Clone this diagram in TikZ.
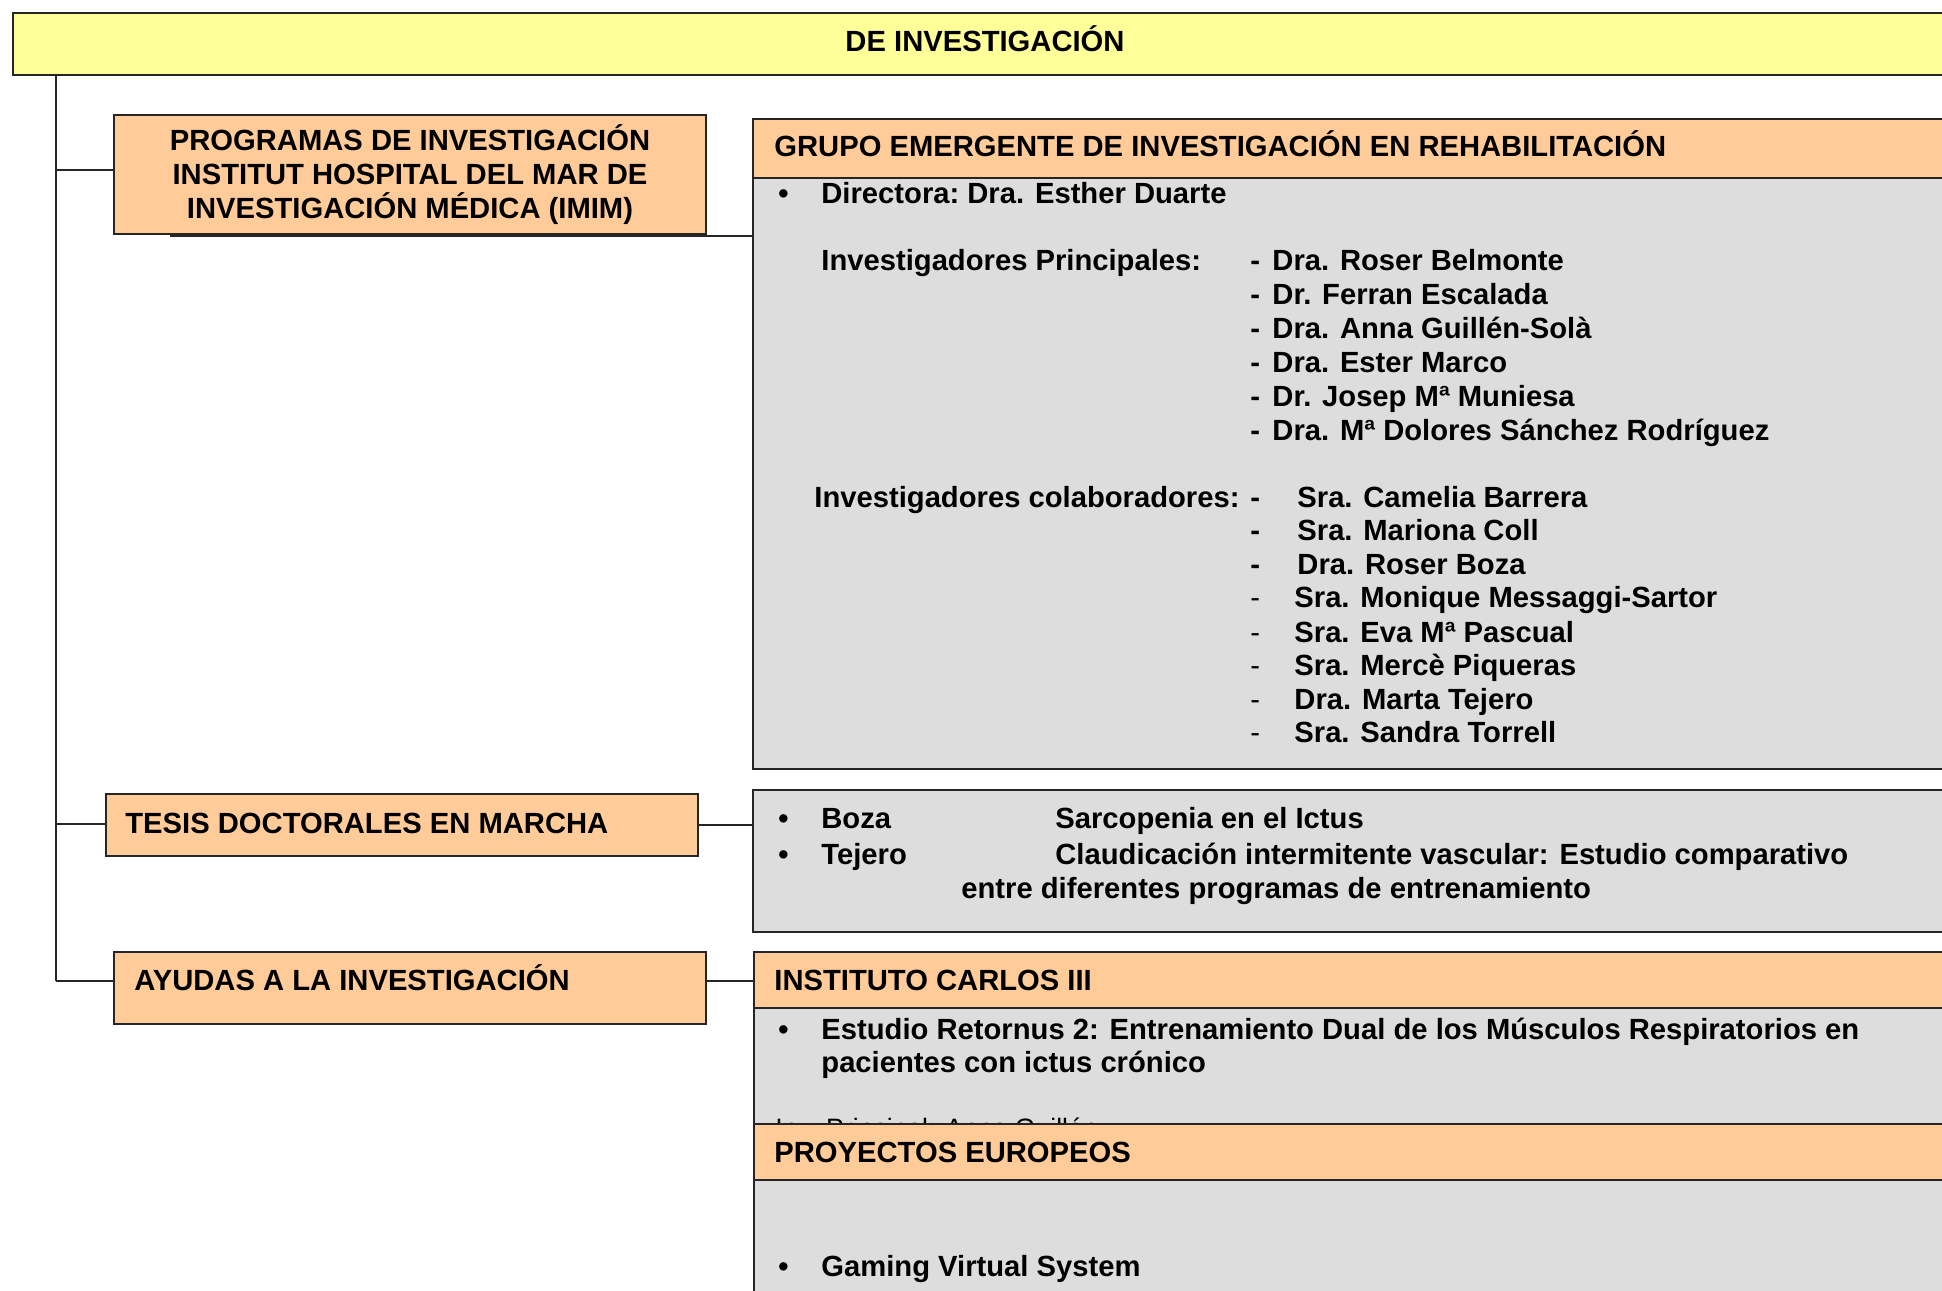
\documentclass[tikz,border=0pt]{standalone}
\usepackage{fontspec}
\setmainfont{Liberation Sans}
\definecolor{amarillo}{HTML}{FFFF99}
\definecolor{naranja}{HTML}{FFCC99}
\definecolor{gris}{HTML}{DDDDDD}
\tikzstyle{cajaa}=[draw=black!85,line width=1pt,fill=amarillo,anchor=north west,inner sep=0pt]
\tikzstyle{cajan}=[draw=black!85,line width=1pt,fill=naranja,anchor=north west,inner sep=0pt,minimum width=296pt]
\tikzstyle{cajah}=[draw=black!85,line width=1pt,fill=naranja,anchor=north west,inner sep=0pt,minimum width=600pt]
\tikzstyle{cajag}=[draw=black!85,line width=1pt,fill=gris,anchor=north west,inner sep=0pt,minimum width=600pt]
\tikzstyle{texto}=[anchor=base west,inner sep=0pt,font=\bfseries\fontsize{14.6}{17}\selectfont]
\tikzstyle{textof}=[anchor=base west,inner sep=0pt,font=\fontsize{14.6}{17}\selectfont]
\tikzstyle{linea}=[line width=0.8pt,black!85]

\begin{document}
\begin{tikzpicture}[x=0.5pt,y=-0.5pt]
    \useasboundingbox (0,0) rectangle (1942,1290);
    \clip (0,0) rectangle (1942,1290);

    % cabecera
    \node[cajaa,minimum width=973pt,minimum height=31pt] (titulo) at (12,12) {};
    \node[texto,anchor=base] (titulot) at (985,51) {DE INVESTIGACIÓN};

    % tronco y ramas
    \coordinate (t0) at (56,74);
    \coordinate (t1) at (56,170);
    \coordinate (t2) at (56,824);
    \coordinate (t3) at (56,981);
    \draw[linea] (t0) -- (t3);

    % programas
    \node[cajag,minimum height=295.5pt] (grupob) at (752,177) {};
    \node[cajah,minimum height=29.5pt] (grupoh) at (752,118) {};
    \node[cajan,minimum height=59.5pt,align=center,font=\bfseries\fontsize{14.6}{17.2}\selectfont] (prog) at (113,114)
        {PROGRAMAS DE INVESTIGACIÓN\\INSTITUT HOSPITAL DEL MAR DE\\INVESTIGACIÓN MÉDICA (IMIM)};
    \coordinate (p0) at (170,236);
    \coordinate (p1) at (752,236);
    \draw[linea] (t1) -- (t1 -| prog.west);
    \draw[linea] (p0) -- (p1);

    \node[texto] (grupot) at (774,156.6) {GRUPO EMERGENTE DE INVESTIGACIÓN EN REHABILITACIÓN};
    \node[texto] (bul1) at (778,203.7) {•};
    \node[texto] (direc) at (821,203.7) {Directora:\ Dra. Esther Duarte};

    \node[texto] (invp) at (821,270.6) {Investigadores Principales:};
    \node[texto] (gp1) at (1250,270.6) {-};
    \node[texto] (gp2) at (1250,304.5) {-};
    \node[texto] (gp3) at (1250,338.4) {-};
    \node[texto] (gp4) at (1250,372.3) {-};
    \node[texto] (gp5) at (1250,406.2) {-};
    \node[texto] (gp6) at (1250,440.1) {-};
    \node[texto] (np1) at (1272,270.6) {Dra. Roser Belmonte};
    \node[texto] (np2) at (1272,304.5) {Dr. Ferran Escalada};
    \node[texto] (np3) at (1272,338.4) {Dra. Anna Guillén-Solà};
    \node[texto] (np4) at (1272,372.3) {Dra. Ester Marco};
    \node[texto] (np5) at (1272,406.2) {Dr. Josep Mª Muniesa};
    \node[texto] (np6) at (1272,440.1) {Dra. Mª Dolores Sánchez Rodríguez};

    \node[texto] (invc) at (814,507) {Investigadores colaboradores:};
    \node[texto] (gc1) at (1250,507) {-};
    \node[texto] (gc2) at (1250,540.5) {-};
    \node[texto] (gc3) at (1250,574) {-};
    \node[textof] (gc4) at (1250,607.5) {-};
    \node[textof] (gc5) at (1250,642) {-};
    \node[textof] (gc6) at (1250,675.5) {-};
    \node[textof] (gc7) at (1250,709) {-};
    \node[textof] (gc8) at (1250,742.5) {-};
    \node[texto] (nc1) at (1297,507) {Sra. Camelia Barrera};
    \node[texto] (nc2) at (1297,540.5) {Sra. Mariona Coll};
    \node[texto] (nc3) at (1297,574) {Dra. Roser Boza};
    \node[texto] (nc4) at (1294,607.5) {Sra. Monique Messaggi-Sartor};
    \node[texto] (nc5) at (1294,642) {Sra. Eva Mª Pascual};
    \node[texto] (nc6) at (1294,675.5) {Sra. Mercè Piqueras};
    \node[texto] (nc7) at (1294,709) {Dra. Marta Tejero};
    \node[texto] (nc8) at (1294,742.5) {Sra. Sandra Torrell};

    % tesis
    \node[cajan,minimum height=31pt] (tesis) at (105,793) {};
    \node[texto] (tesist) at (125,833) {TESIS DOCTORALES EN MARCHA};
    \node[cajag,minimum height=71pt] (tesisb) at (752,789) {};
    \draw[linea] (t2) -- (t2 -| tesis.west);
    \draw[linea] (tesis.east) -- (tesis.east -| tesisb.west);
    \node[texto] (bul2) at (778,828.5) {•};
    \node[texto] (boza) at (821,828.5) {Boza};
    \node[texto] (sarc) at (1055,828.5) {Sarcopenia en el Ictus};
    \node[texto] (bul3) at (778,864.5) {•};
    \node[texto] (tejero) at (821,864.5) {Tejero};
    \node[texto] (claud) at (1055,864.5) {Claudicación intermitente vascular: Estudio comparativo};
    \node[texto] (claud2) at (961,898) {entre diferentes programas de entrenamiento};

    % ayudas
    \node[cajan,minimum height=36pt] (ayudas) at (113,951) {};
    \node[texto] (ayudast) at (134,990.5) {AYUDAS A LA INVESTIGACIÓN};
    \node[cajag,minimum height=58pt] (instb) at (753,1007) {};
    \node[cajah,minimum height=28pt] (insth) at (753,951) {};
    \draw[linea] (t3) -- (t3 -| ayudas.west);
    \draw[linea] (ayudas.east |- t3) -- (insth.west |- t3);
    \node[texto] (instt) at (774,990.5) {INSTITUTO CARLOS III};
    \node[texto] (bul4) at (778,1039) {•};
    \node[texto] (retor) at (821,1039) {Estudio Retornus 2: Entrenamiento Dual de los Músculos Respiratorios en};
    \node[texto] (retor2) at (821,1072.5) {pacientes con ictus crónico};
    \node[anchor=base west,inner sep=0pt,font=\fontsize{13.3}{16}\selectfont] (invpr) at (775,1137) {Inv. Principal: Anna Guillén};

    \node[cajag,minimum height=80pt] (proyb) at (753,1179) {};
    \node[cajah,minimum height=28pt] (proyh) at (753,1123) {};
    \node[texto] (proyt) at (774,1162.5) {PROYECTOS EUROPEOS};
    \node[texto] (bul5) at (778,1276.5) {•};
    \node[texto] (gaming) at (821,1276.5) {Gaming Virtual System};

\end{tikzpicture}
\end{document}
